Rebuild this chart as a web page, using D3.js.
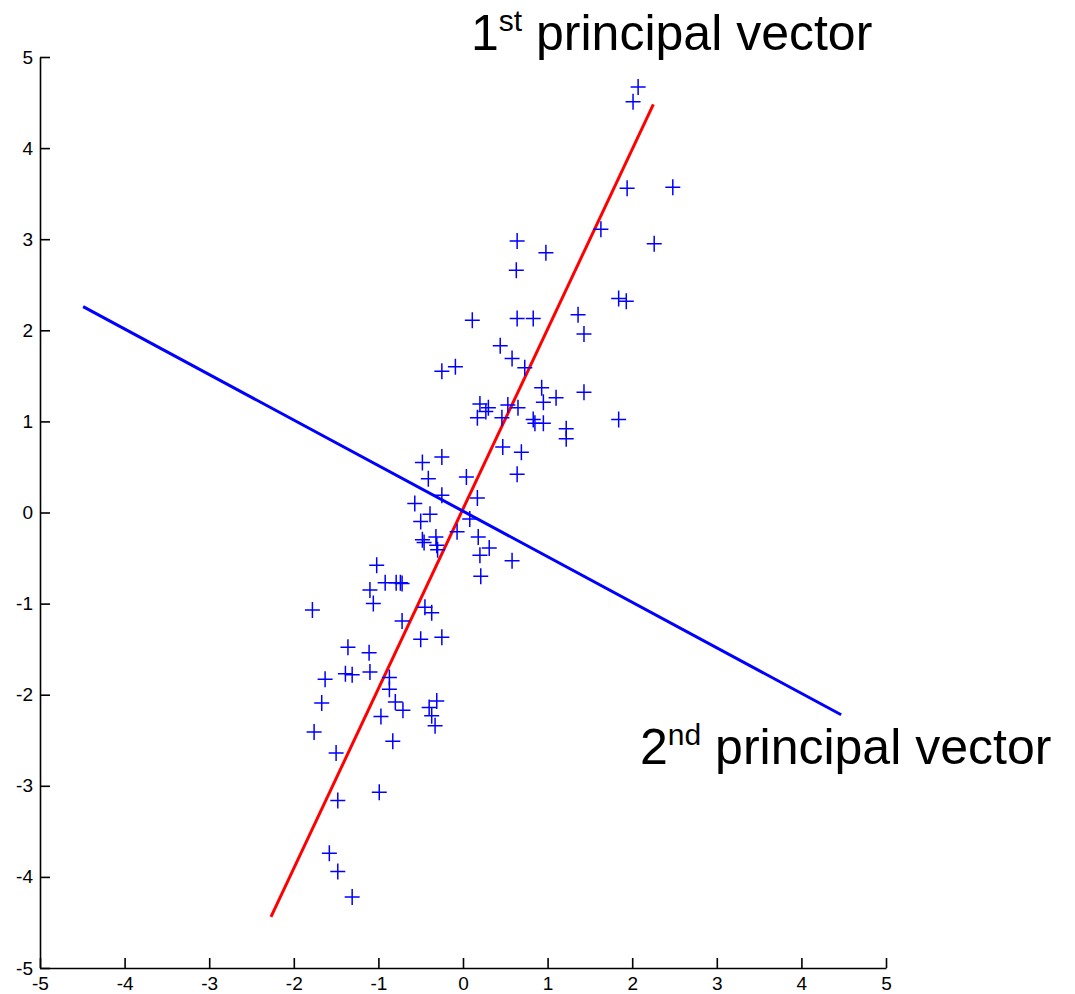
<!DOCTYPE html>
<html>
<head>
<meta charset="utf-8">
<script src="https://cdn.jsdelivr.net/npm/d3@7"></script>
<style>
  html, body { margin: 0; padding: 0; background: #fff; }
  #chart { width: 1075px; height: 994px; }
  .axis text { font-family: "Liberation Sans", Arial, sans-serif; font-size: 19px; fill: #000; }
  .axis path, .axis line { stroke: #000; stroke-width: 1.6; }
  .label { font-family: "Liberation Sans", Arial, sans-serif; fill: #000; }
</style>
</head>
<body>
<div id="chart"></div>
<script>
// sample points (x, y)
var xValues = [2.07, 2.01, 1.94, 2.48, 1.63, 2.26, 0.64, 0.98, 0.63, 1.84,
  1.93, 0.11, 0.64, 0.83, 1.36, 1.43, 0.44, 0.58, 0.73, -0.25,
  -0.09, 0.93, 1.43, 1.10, 0.95, 0.20, 0.30, 0.27, 0.53, 0.65,
  0.17, 0.46, 0.83, 0.85, 0.95, 1.22, 1.22, 1.84, 0.47, 0.69,
  0.64, -0.48, -0.25, -0.41, 0.04, -0.25, 0.17, -0.57, -0.39, -0.50,
  0.08, -0.07, -0.32, -0.48, -0.46, -0.31, -0.30, 0.18, 0.31, 0.20,
  0.58, 0.21, -0.74, -1.02, -0.92, -0.79, -0.72, -1.10, -1.06, -1.78,
  -0.45, -0.37, -0.72, -0.50, -0.25, -1.36, -1.11, -1.39, -1.31, -1.10,
  -1.63, -0.87, -0.87, -1.67, -0.80, -0.71, -0.31, -0.40, -0.37, -0.97,
  -0.33, -1.76, -0.83, -1.50, -1.48, -0.99, -1.58, -1.48, -1.31];
var yValues = [4.67, 4.51, 3.56, 3.57, 3.11, 2.95, 2.98, 2.85, 2.66, 2.35,
  2.32, 2.11, 2.13, 2.13, 2.17, 1.96, 1.83, 1.69, 1.59, 1.55,
  1.60, 1.37, 1.32, 1.26, 1.21, 1.19, 1.15, 1.11, 1.18, 1.15,
  1.04, 1.04, 1.02, 0.98, 0.98, 0.92, 0.81, 1.02, 0.72, 0.66,
  0.42, 0.55, 0.61, 0.37, 0.39, 0.19, 0.16, 0.10, -0.02, -0.10,
  -0.07, -0.21, -0.27, -0.30, -0.33, -0.36, -0.41, -0.27, -0.39, -0.47,
  -0.53, -0.70, -0.77, -0.58, -0.77, -0.77, -0.78, -0.85, -1.00, -1.07,
  -1.04, -1.10, -1.19, -1.39, -1.37, -1.48, -1.54, -1.77, -1.78, -1.75,
  -1.83, -1.81, -1.94, -2.09, -2.08, -2.17, -2.07, -2.14, -2.23, -2.24,
  -2.34, -2.41, -2.51, -2.64, -3.16, -3.07, -3.74, -3.94, -4.22];

// principal vector end points
var pc1X = [-2.27, 2.25];
var pc1Y = [-4.44, 4.48];
var pc2X = [-4.49, 4.47];
var pc2Y = [2.26, -2.22];

var xTicks = [-5, -4, -3, -2, -1, 0, 1, 2, 3, 4, 5];
var yTicks = [-5, -4, -3, -2, -1, 0, 1, 2, 3, 4, 5];

function plot() {
  var width = 1075, height = 994;
  var left = 40, right = 886, top = 57, bottom = 968;

  var x = d3.scaleLinear().domain([-5, 5]).range([left, right]);
  var y = d3.scaleLinear().domain([-5, 5]).range([bottom, top]);

  var svg = d3.select("#chart").append("svg")
    .attr("width", width)
    .attr("height", height);

  svg.append("g")
    .attr("class", "axis")
    .attr("transform", "translate(0," + bottom + ")")
    .call(d3.axisBottom(x).tickValues(xTicks).tickFormat(function(d) { return String(d); })
      .tickSizeInner(-10).tickSizeOuter(0).tickPadding(9));

  svg.append("g")
    .attr("class", "axis")
    .attr("transform", "translate(" + left + ",0)")
    .call(d3.axisLeft(y).tickValues(yTicks).tickFormat(function(d) { return String(d); })
      .tickSizeInner(-10).tickSizeOuter(0).tickPadding(7));

  var line = d3.line()
    .x(function(d) { return x(d[0]); })
    .y(function(d) { return y(d[1]); });

  svg.append("path")
    .datum(d3.zip(pc1X, pc1Y))
    .attr("d", line)
    .attr("fill", "none")
    .attr("stroke", "#ff0000")
    .attr("stroke-width", 3);

  svg.append("path")
    .datum(d3.zip(pc2X, pc2Y))
    .attr("d", line)
    .attr("fill", "none")
    .attr("stroke", "#0000ff")
    .attr("stroke-width", 3);

  svg.selectAll(".pt")
    .data(d3.zip(xValues, yValues))
    .enter().append("path")
    .attr("class", "pt")
    .attr("transform", function(d) { return "translate(" + x(d[0]) + "," + y(d[1]) + ")"; })
    .attr("d", "M-7.5,0H7.5M0,-8V8")
    .attr("fill", "none")
    .attr("stroke", "#0000ff")
    .attr("stroke-width", 1.5);

  // labels
  var t1 = svg.append("text").attr("class", "label")
    .attr("x", 471).attr("y", 50).style("font-size", "50px");
  t1.append("tspan").text("1");
  t1.append("tspan").attr("dy", -19).style("font-size", "30px").text("st");
  t1.append("tspan").attr("dy", 19).text(" principal vector");

  var t2 = svg.append("text").attr("class", "label")
    .attr("x", 640).attr("y", 764).style("font-size", "50px");
  t2.append("tspan").text("2");
  t2.append("tspan").attr("dy", -19).style("font-size", "30px").text("nd");
  t2.append("tspan").attr("dy", 19).text(" principal vector");
}

document.addEventListener("DOMContentLoaded", function() {
  plot();
});
</script>
</body>
</html>
